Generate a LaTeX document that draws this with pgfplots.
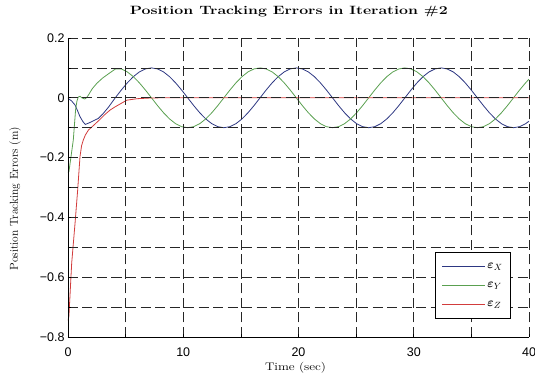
\documentclass[border=0pt]{standalone}
\usepackage{amsmath}
\usepackage{graphicx}
\usepackage{fontspec}
\usepackage{pgfplots}
\pgfplotsset{compat=1.18}
\newfontfamily\tickfont{Liberation Sans}
\definecolor{cx}{RGB}{45,55,130}
\definecolor{cy}{RGB}{90,160,80}
\definecolor{cz}{RGB}{210,60,60}
\begin{document}
\begin{tikzpicture}
\begin{axis}[name=ax, scale only axis, width=461pt, height=299pt,
  xmin=0, xmax=40, ymin=-0.8, ymax=0.2,
  axis lines*=left, axis line style={-, black, line width=0.8pt},
  axis on top,
  xtick={0,10,20,30,40}, xticklabels={0,10,20,30,40},
  minor xtick={5,15,25,35},
  ytick={-0.8,-0.6,-0.4,-0.2,0,0.2},
  yticklabels={−0.8,−0.6,−0.4,−0.2,0,0.2},
  minor ytick={-0.7,-0.5,-0.3,-0.1,0.1},
  grid=both,
  grid style={black!85, line width=0.7pt, dash pattern=on 10pt off 4.5pt},
  minor grid style={black!85, line width=0.7pt, dash pattern=on 10pt off 4.5pt},
  major tick length=3pt, minor tick length=3pt,
  tick style={black, line width=0.6pt},
  xticklabel style={font=\tickfont\fontsize{12.5}{14}\selectfont, anchor=base, yshift=-19.5pt},
  yticklabel style={font=\tickfont\fontsize{12.5}{14}\selectfont},
  title={\resizebox{318pt}{\height}{Position Tracking Errors in Iteration \#2}},
  title style={font=\fontsize{12}{14}\selectfont\bfseries, at={(0.479,1)}, anchor=base, yshift=17.3pt},
  xlabel={\resizebox{61pt}{\height}{Time (sec)}},
  xlabel style={font=\fontsize{11}{13}\selectfont, at={(0.4935,0)}, anchor=base, yshift=-34pt},
  ylabel={Position Tracking Errors (m)},
  ylabel style={font=\fontsize{11.5}{14}\selectfont, at={(-0.1085,0.463)}, anchor=base},
  no markers,
  legend image code/.code={\draw[#1] (0pt,0pt) -- (43pt,0pt);},
  legend cell align=left,
  legend style={at={(0.961,0.060)}, anchor=south east, draw=black, line width=0.8pt, fill=white,
    font=\fontsize{13}{15}\selectfont, row sep=8pt, inner xsep=6pt, inner ysep=9pt,
    /tikz/every even column/.append style={column sep=2pt}},
]
\addplot[cx, line width=0.8pt] coordinates {
(0,-0.002) (0.3,-0.01) (0.61,-0.024) (0.85,-0.045) (1.04,-0.063) (1.3,-0.08) (1.5,-0.089)
(1.77,-0.085) (2.2,-0.077) (2.63,-0.069) (3.0,-0.055) (3.5,-0.032)
(4.100,0) (4.624,0.0259) (5.147,0.05) (5.671,0.0707) (6.194,0.0866) (6.718,0.0966)
(7.242,0.1) (7.765,0.0966) (8.289,0.0866) (8.812,0.0707) (9.336,0.05) (9.860,0.0259)
(10.383,0) (10.907,-0.0259) (11.430,-0.05) (11.954,-0.0707) (12.478,-0.0866) (13.001,-0.0966)
(13.525,-0.1) (14.048,-0.0966) (14.572,-0.0866) (15.096,-0.0707) (15.619,-0.05) (16.143,-0.0259)
(16.666,0) (17.190,0.0259) (17.714,0.05) (18.237,0.0707) (18.761,0.0866) (19.284,0.0966)
(19.808,0.1) (20.332,0.0966) (20.855,0.0866) (21.379,0.0707) (21.902,0.05) (22.426,0.0259)
(22.950,0) (23.473,-0.0259) (23.997,-0.05) (24.520,-0.0707) (25.044,-0.0866) (25.568,-0.0966)
(26.091,-0.1) (26.615,-0.0966) (27.138,-0.0866) (27.662,-0.0707) (28.186,-0.05) (28.709,-0.0259)
(29.233,0) (29.756,0.0259) (30.280,0.05) (30.804,0.0707) (31.327,0.0866) (31.851,0.0966)
(32.374,0.1) (32.898,0.0966) (33.422,0.0866) (33.945,0.0707) (34.469,0.05) (34.992,0.0259)
(35.516,0) (36.040,-0.0259) (36.563,-0.05) (37.087,-0.0707) (37.610,-0.0866) (38.134,-0.0966)
(38.658,-0.1) (39.181,-0.0966) (39.705,-0.0866) (40,-0.0783)
};
\addlegendentry{$\boldsymbol{\varepsilon}_X$}
\addplot[cy, line width=0.8pt] coordinates {
(0,-0.25) (0.08,-0.247) (0.25,-0.2) (0.46,-0.141) (0.56,-0.09) (0.66,-0.04) (0.78,-0.01)
(0.9,0.003) (1.05,0.005) (1.2,0.0) (1.45,-0.004) (1.6,0.0) (1.77,0.009) (2.1,0.03)
(2.49,0.048) (3.0,0.066) (3.65,0.084)
(4.100,0.096) (4.624,0.0966) (5.147,0.0866) (5.671,0.0707) (6.194,0.05) (6.718,0.0259)
(7.242,0) (7.765,-0.0259) (8.289,-0.05) (8.812,-0.0707) (9.336,-0.0866) (9.860,-0.0966)
(10.383,-0.1) (10.907,-0.0966) (11.430,-0.0866) (11.954,-0.0707) (12.478,-0.05) (13.001,-0.0259)
(13.525,0) (14.048,0.0259) (14.572,0.05) (15.096,0.0707) (15.619,0.0866) (16.143,0.0966)
(16.666,0.1) (17.190,0.0966) (17.714,0.0866) (18.237,0.0707) (18.761,0.05) (19.284,0.0259)
(19.808,0) (20.332,-0.0259) (20.855,-0.05) (21.379,-0.0707) (21.902,-0.0866) (22.426,-0.0966)
(22.950,-0.1) (23.473,-0.0966) (23.997,-0.0866) (24.520,-0.0707) (25.044,-0.05) (25.568,-0.0259)
(26.091,0) (26.615,0.0259) (27.138,0.05) (27.662,0.0707) (28.186,0.0866) (28.709,0.0966)
(29.233,0.1) (29.756,0.0966) (30.280,0.0866) (30.804,0.0707) (31.327,0.05) (31.851,0.0259)
(32.374,0) (32.898,-0.0259) (33.422,-0.05) (33.945,-0.0707) (34.469,-0.0866) (34.992,-0.0966)
(35.516,-0.1) (36.040,-0.0966) (36.563,-0.0866) (37.087,-0.0707) (37.610,-0.05) (38.134,-0.0259)
(38.658,0) (39.181,0.0259) (39.705,0.05) (40,0.0623)
};
\addlegendentry{$\boldsymbol{\varepsilon}_Y$}
\addplot[cz, line width=0.8pt] coordinates {
(0,-0.745) (0.08,-0.73) (0.32,-0.553) (0.61,-0.42) (0.84,-0.308) (1.04,-0.197) (1.18,-0.16)
(1.33,-0.141) (1.5,-0.125) (1.77,-0.108) (2.2,-0.093) (2.7,-0.075) (3.2,-0.056) (3.65,-0.041)
(4.1,-0.03) (5.1,-0.008) (6,-0.003) (7,-0.001) (8,0) (40,0)
};
\addlegendentry{$\boldsymbol{\varepsilon}_Z$}
\end{axis}
\pgfresetboundingbox
\path ([shift={(-68pt,-42pt)}]ax.south west) rectangle ([shift={(6pt,38pt)}]ax.north east);
\end{tikzpicture}
\end{document}
